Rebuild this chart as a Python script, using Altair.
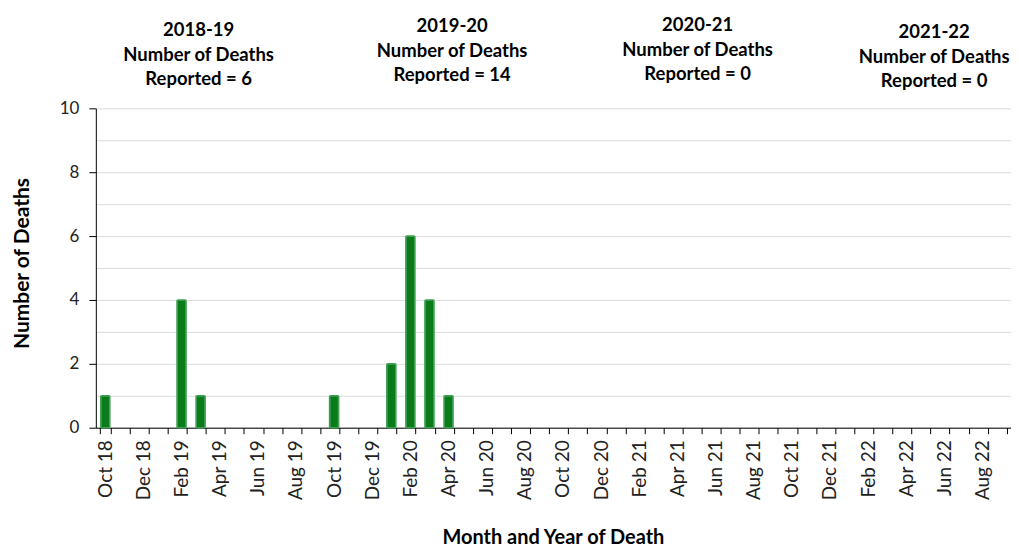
import altair as alt
import pandas as pd

months = [
    "Oct 18", "Nov 18", "Dec 18", "Jan 19", "Feb 19", "Mar 19", "Apr 19", "May 19",
    "Jun 19", "Jul 19", "Aug 19", "Sep 19", "Oct 19", "Nov 19", "Dec 19", "Jan 20",
    "Feb 20", "Mar 20", "Apr 20", "May 20", "Jun 20", "Jul 20", "Aug 20", "Sep 20",
    "Oct 20", "Nov 20", "Dec 20", "Jan 21", "Feb 21", "Mar 21", "Apr 21", "May 21",
    "Jun 21", "Jul 21", "Aug 21", "Sep 21", "Oct 21", "Nov 21", "Dec 21", "Jan 22",
    "Feb 22", "Mar 22", "Apr 22", "May 22", "Jun 22", "Jul 22", "Aug 22", "Sep 22",
]
deaths = [
    1, 0, 0, 0, 4, 1, 0, 0, 0, 0, 0, 0,
    1, 0, 0, 2, 6, 4, 1, 0, 0, 0, 0, 0,
    0, 0, 0, 0, 0, 0, 0, 0, 0, 0, 0, 0,
    0, 0, 0, 0, 0, 0, 0, 0, 0, 0, 0, 0,
]
x_tick_labels = [
    "Oct 18", "Dec 18", "Feb 19", "Apr 19", "Jun 19", "Aug 19", "Oct 19", "Dec 19",
    "Feb 20", "Apr 20", "Jun 20", "Aug 20", "Oct 20", "Dec 20", "Feb 21", "Apr 21",
    "Jun 21", "Aug 21", "Oct 21", "Dec 21", "Feb 22", "Apr 22", "Jun 22", "Aug 22",
]
y_values = [0, 1, 2, 3, 4, 5, 6, 7, 8, 9, 10]
seasons = ["2018-19", "2019-20", "2020-21", "2021-22"]
season_totals = [6, 14, 0, 0]

df = pd.DataFrame({"month": months, "deaths": deaths})

FONT = "Lato"
label_list = "[" + ",".join("'" + s + "'" for s in x_tick_labels) + "]"

bars = alt.Chart(df).transform_filter("datum.deaths > 0").mark_bar(
    size=9, fill="#0b7a18", stroke="#3c9f52", strokeWidth=1.6, cornerRadius=1
).encode(
    x=alt.X(
        "month:N",
        sort=months,
        scale=alt.Scale(domain=months, paddingInner=0.45, paddingOuter=0.22),
        axis=alt.Axis(
            title="Month and Year of Death",
            titleFont=FONT, titleFontSize=20, titleFontWeight="bold", titleColor="#000000",
            titleX=458, titleY=116, titleBaseline="alphabetic", titleAnchor="middle",
            labelExpr="indexof(" + label_list + ", datum.value) >= 0 ? datum.value : ''",
            labelAngle=270, labelAlign="right", labelBaseline="middle",
            labelFont=FONT, labelFontSize=19, labelColor="#222222", labelPadding=6,
            labelOverlap=False, labelBound=False,
            tickBand="extent", tickSize=6, tickColor="#000000", tickWidth=1,
            domainColor="#000000", domainWidth=1, grid=False,
        ),
    ),
    y=alt.Y(
        "deaths:Q",
        scale=alt.Scale(domain=[0, 10], nice=False),
        axis=alt.Axis(
            title="Number of Deaths",
            titleFont=FONT, titleFontSize=21, titleFontWeight="bold", titleColor="#000000",
            titleX=-73, titleY=155, titleAngle=270, titleBaseline="middle", titleAlign="center",
            values=y_values,
            labelExpr="datum.value % 2 == 0 ? datum.label : ''",
            labelFont=FONT, labelFontSize=17, labelColor="#222222", labelPadding=10,
            tickSize=7,
            tickColor={"condition": {"test": "datum.value % 2 === 1", "value": "transparent"},
                       "value": "#000000"},
            domainColor="#000000", domainWidth=1,
            grid=True, gridColor="#dcdcdc", gridWidth=1,
        ),
    ),
)

header_pos = [(103, -78), (357, -82), (603, -83), (840, -76)]
layers = [bars]
for (hx, hy), season, total in zip(header_pos, seasons, season_totals):
    txt = f"{season}\nNumber of Deaths\nReported = {total}"
    layers.append(
        alt.Chart(df).mark_text(
            lineBreak="\n", lineHeight=24.5, font=FONT, fontSize=18.5, fontWeight="bold",
            color="#000000", align="center", baseline="middle",
        ).encode(x=alt.value(hx), y=alt.value(hy), text=alt.value(txt))
        .transform_filter("datum.month == 'Oct 18'")
    )

chart = alt.layer(*layers).properties(
    width=917, height=320,
    autosize=alt.AutoSizeParams(type="none"),
    padding={"left": 88, "top": 100, "right": 0, "bottom": 122},
).configure_view(stroke=None)

chart.save("out.html", embed_options={"renderer": "svg", "actions": False})
